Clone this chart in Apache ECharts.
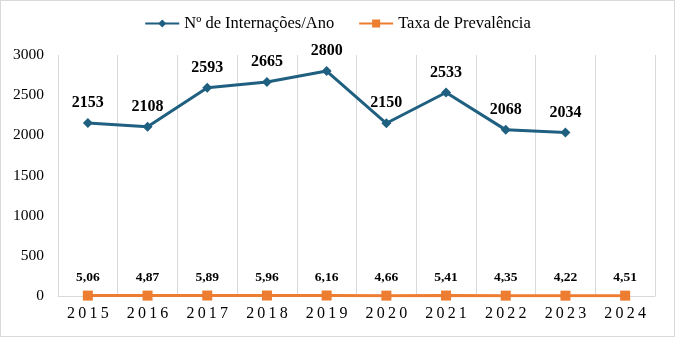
<!DOCTYPE html>
<html><head><meta charset="utf-8">
<script src="https://cdn.jsdelivr.net/npm/echarts@6/dist/echarts.min.js"></script>
<style>html,body{margin:0;padding:0;background:#fff}#c{width:675px;height:337px;box-sizing:border-box;border:1px solid #d9d9d9}</style>
</head><body><div id="c"></div>
<script>
const years = ['2015','2016','2017','2018','2019','2020','2021','2022','2023','2024'];
const internacoes = [2153, 2108, 2593, 2665, 2800, 2150, 2533, 2068, 2034, null];
const prevalencia = [5.06, 4.87, 5.89, 5.96, 6.16, 4.66, 5.41, 4.35, 4.22, 4.51];
const yTicks = [0, 500, 1000, 1500, 2000, 2500, 3000];
const font = '"Liberation Serif","Times New Roman",serif';
const chart = echarts.init(document.getElementById('c'), null, {renderer:'canvas'});
chart.setOption({
  animation:false,
  textStyle:{fontFamily:font},
  legend:{top:9, left:'center', itemGap:24, itemWidth:34, itemHeight:10,
    textStyle:{fontFamily:font, fontSize:16.5, color:'#000'},
    data:['Nº de Internações/Ano','Taxa de Prevalência']},
  grid:{left:57, right:19, top:54, bottom:40},
  xAxis:{type:'category', data:years, boundaryGap:true,
    axisLine:{lineStyle:{color:'#d9d9d9'}}, axisTick:{show:false},
    splitLine:{show:true, lineStyle:{color:'#d9d9d9'}},
    axisLabel:{fontFamily:font, fontSize:16, color:'#000', margin:10,
      formatter:v=>v.split('').join('\u2009')}},
  yAxis:{type:'value', min:yTicks[0], max:yTicks[yTicks.length-1], interval:500,
    axisLine:{show:false}, axisTick:{show:false}, splitLine:{show:false},
    axisLabel:{fontFamily:font, fontSize:15.5, color:'#000', margin:14, formatter:v=>String(v)}},
  series:[
    {name:'Nº de Internações/Ano', type:'line', data:internacoes,
      color:'#1f5f80', symbol:'diamond', symbolSize:10,
      lineStyle:{width:3, color:'#1f5f80'}, itemStyle:{color:'#1f5f80'},
      label:{show:true, position:'top', distance:7, fontFamily:font, fontSize:16, fontWeight:'bold', color:'#000'}},
    {name:'Taxa de Prevalência', type:'line', data:prevalencia,
      color:'#ed7d31', symbol:'rect', symbolSize:10,
      lineStyle:{width:3, color:'#ed7d31'}, itemStyle:{color:'#ed7d31'},
      label:{show:true, position:'top', distance:6, fontFamily:font, fontSize:13.5, fontWeight:'bold', color:'#000',
        formatter:p=>p.value.toFixed(2).replace('.',',')}}
  ]
});
</script></body></html>
